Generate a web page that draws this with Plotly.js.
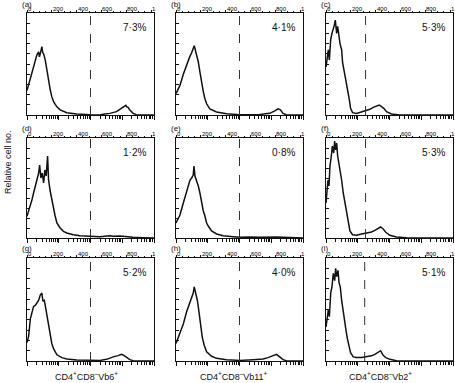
<!DOCTYPE html>
<html>
<head>
<meta charset="utf-8">
<script src="https://cdn.plot.ly/plotly-3.0.1.min.js"></script>
<style>
  html, body { margin: 0; padding: 0; background: #fff; }
  #chart { width: 455px; height: 383px; }
</style>
</head>
<body>
<div id="chart"></div>
<script>
// Histogram data, channel (0-1024, 4 log decades) vs relative cell count
const chA = [0,14,27,40,53,67,80,94,100,107,113,120,127,134,147,160,174,187,200,214,241,267,321,401,508,588,615,668,722,749,775,786,797,805,815,829,856,882,1024];
const ctA = [24,30,36,42,47,54,59,62,57,60,64,67,61,60,54,44,34,25,18,13,8,5,2.3,1,0.3,0,0.8,1.6,3.3,5.6,7.5,8.6,9.5,8,7.5,4.9,1.6,0.3,0];

const chB = [0,32,59,86,107,126,139,147,161,180,193,206,220,233,247,273,327,407,515,676,756,796,810,823,842,863,890,1024];
const ctB = [21,29,40,50,56,61,65,68,61,52,42,32,23,16,11,6,3,1.3,0.3,0.6,1.6,4,5,6,5,1.6,0.3,0];

const chC = [0,19,27,38,48,59,67,75,86,94,105,113,126,134,145,161,174,188,198,214,247,287,327,354,381,407,429,448,466,488,528,595,1024];
const ctC = [47,64,54,74,80,84,88,93,80,87,77,70,64,51,44,34,25,15,6.5,2.3,1.6,3.3,4.3,5.6,7.5,8.9,9.8,8.2,6.6,3.3,1,0,0];

const chD = [0,13,27,40,53,67,80,94,102,112,123,134,144,155,166,174,187,200,214,227,241,267,294,321,374,428,508,588,668,695,749,802,856,936,1024];
const ctD = [21.7,26.7,31.7,38.3,45,51.7,56.7,65,73,60,65,55,68,62,82,58,47,38,28,22,15,10,6.7,5,3.3,2.3,1.7,1.3,2.3,1.7,2,1.3,0.7,0.3,0];

const chE = [0,32,59,80,99,113,126,139,145,153,166,180,193,206,220,233,247,260,287,327,381,461,515,595,676,810,917,1024];
const ctE = [15,23,35,43,52,58,60,63,72,62,57,52,45,35,27,22,15,12,7,4,2.3,1.3,0.7,1,0.7,1,0.3,0];

const chF = [0,16,24,32,43,51,62,70,78,86,94,105,115,126,139,153,166,180,193,214,247,287,327,367,394,421,440,461,482,515,568,649,1024];
const ctF = [35,58,52,72,82,92,85,97,88,95,82,75,68,58,45,35,25,15,7,3.3,2.7,4,5,6,7.7,10,11,9,5.7,2.7,1,0.3,0];

const chG = [0,13,27,40,53,67,80,94,107,120,128,139,147,160,174,187,200,214,241,281,321,401,508,588,642,668,695,735,762,781,802,829,856,1024];
const ctG = [18,24,41,48,53,54,56,59,64,66,58,59,54,45,33,23,17,12,6,3.3,2,1,0.6,0.6,1.6,3,4,5.2,6.5,5.5,3.3,1.3,0.3,0];

const chH = [0,32,59,86,107,126,139,147,158,172,185,198,212,228,247,287,327,407,515,622,702,742,783,810,836,863,890,1024];
const ctH = [17,27,36,48,56,63,66,72,67,59,48,36,23,15,9,4.6,2.6,1.3,0.6,1.3,2,3.3,5.5,6.5,4,1.3,0.3,0];

const chI = [0,19,27,38,48,59,70,78,86,97,105,115,126,139,150,161,172,185,198,220,247,287,327,367,394,421,440,461,482,515,568,1024];
const ctI = [33,50,43,66,72,85,78,90,82,88,76,72,59,46,36,30,22,14,8,4,3.3,3.3,4,5,6.5,8.5,10,5.5,3.3,1.6,0.3,0];

const panelLetters = ["(a)","(b)","(c)","(d)","(e)","(f)","(g)","(h)","(i)"];
const percents = ["7·3%","4·1%","5·3%","1·2%","0·8%","5·3%","5·2%","4·0%","5·1%"];
const gates = [512,512,319,512,512,319,512,512,312];
const topTickVals = [0,200,400,600,800,1000];
const topTickText = ["0","200","400","600","800","1"];
const columnTitles = [
  "CD4<sup>+</sup>CD8<sup>–</sup>Vb6<sup>+</sup>",
  "CD4<sup>+</sup>CD8<sup>–</sup>Vb11<sup>+</sup>",
  "CD4<sup>+</sup>CD8<sup>–</sup>Vb2<sup>+</sup>"
];

const channels = [chA,chB,chC,chD,chE,chF,chG,chH,chI];
const counts = [ctA,ctB,ctC,ctD,ctE,ctF,ctG,ctH,ctI];

// page geometry (pixels)
const W = 455, H = 383;
const colLeft = [27,176,326], colRight = [154,303,453];
const rowTop = [13,138,258], rowBottom = [115,238,361];
const px = v => v / W;
const py = v => 1 - v / H;

// log decade ticks on the bottom axis
const decadeVals = [0,256,512,768,1024];
const minorVals = [];
for (let d = 0; d < 4; d++) {
  for (let m = 2; m <= 9; m++) minorVals.push(256 * (d + Math.log10(m)));
}

const font = "Liberation Sans, Arial, sans-serif";
const traces = [];
const shapes = [];
const annotations = [];
const layout = {
  width: W, height: H,
  margin: { l: 0, r: 0, t: 0, b: 0 },
  paper_bgcolor: "#fff",
  plot_bgcolor: "#fff",
  showlegend: false,
  font: { family: font, color: "#111" }
};

for (let i = 0; i < 9; i++) {
  const col = i % 3, row = Math.floor(i / 3);
  const n = i + 1;
  const xb = n === 1 ? "x" : "x" + n;
  const yb = n === 1 ? "y" : "y" + n;
  const xt = "x" + (n + 9);

  traces.push({
    type: "scatter", mode: "lines",
    x: channels[i], y: counts[i],
    xaxis: xb, yaxis: yb,
    line: { color: "#111", width: 1.5 },
    hoverinfo: "skip"
  });
  // invisible copy so the top channel axis is drawn
  traces.push({
    type: "scatter", mode: "lines",
    x: channels[i], y: counts[i],
    xaxis: xt, yaxis: yb,
    line: { color: "rgba(0,0,0,0)", width: 0 },
    hoverinfo: "skip"
  });

  const xdom = [px(colLeft[col]), px(colRight[col])];
  const ydom = [py(rowBottom[row]), py(rowTop[row])];

  layout["xaxis" + (n === 1 ? "" : n)] = {
    domain: xdom, anchor: yb, range: [0, 1024],
    showgrid: false, zeroline: false,
    showline: true, linecolor: "#111", linewidth: 1,
    tickmode: "array", tickvals: decadeVals,
    ticks: "outside", ticklen: 4, tickwidth: 1, tickcolor: "#111",
    showticklabels: false,
    minor: { tickmode: "array", tickvals: minorVals, ticks: "outside", ticklen: 2.5, tickwidth: 1, tickcolor: "#111" }
  };
  layout["xaxis" + (n + 9)] = {
    overlaying: xb, anchor: yb, side: "top", range: [0, 1024],
    showgrid: false, zeroline: false,
    showline: true, linecolor: "#111", linewidth: 1,
    tickmode: "array", tickvals: topTickVals,
    ticks: "outside", ticklen: 2, tickwidth: 1, tickcolor: "#111",
    showticklabels: false,
    minor: { dtick: 50, ticks: "outside", ticklen: 1.5, tickwidth: 1, tickcolor: "#111" }
  };
  layout["yaxis" + (n === 1 ? "" : n)] = {
    domain: ydom, anchor: xb, range: [0, 100],
    showgrid: false, zeroline: false,
    showline: true, mirror: true, linecolor: "#111", linewidth: 1,
    tickmode: "linear", tick0: 0, dtick: 10,
    ticks: "inside", ticklen: 3, tickwidth: 1, tickcolor: "#111",
    showticklabels: false
  };

  // top channel tick labels, sitting just right of each tick
  topTickVals.forEach((v, k) => {
    annotations.push({
      xref: xt, yref: yb + " domain",
      x: v, y: 1, xanchor: "left", yanchor: "bottom",
      xshift: 0, yshift: 0, borderpad: 0,
      text: topTickText[k], showarrow: false,
      font: { size: 6, family: font, color: "#000" }
    });
  });

  shapes.push({
    type: "line", xref: xb, yref: yb + " domain",
    x0: gates[i], x1: gates[i], y0: 0, y1: 1,
    line: { color: "#333", width: 1, dash: "dash" }
  });

  annotations.push({
    xref: "paper", yref: "paper",
    x: px(colLeft[col] - 6), y: py(Math.max(4.5, rowTop[row] - 10)),
    xanchor: "left", yanchor: "middle", borderpad: 0,
    text: panelLetters[i], showarrow: false,
    font: { size: 8, family: font, color: "#111" }
  });
  annotations.push({
    xref: xb + " domain", yref: yb + " domain",
    x: 0.955, y: 0.86, xanchor: "right", yanchor: "middle",
    text: percents[i], showarrow: false,
    font: { size: 10, family: font, color: "#111" }
  });
}

// column titles
const titleCenters = [86, 234, 380];
for (let c = 0; c < 3; c++) {
  annotations.push({
    xref: "paper", yref: "paper",
    x: px(titleCenters[c]), y: py(376),
    xanchor: "center", yanchor: "middle",
    text: columnTitles[c], showarrow: false,
    font: { size: 9, family: font, color: "#111" }
  });
}

// shared y title
annotations.push({
  xref: "paper", yref: "paper",
  x: px(8), y: py(162), xanchor: "center", yanchor: "middle",
  text: "Relative cell no.", textangle: -90, showarrow: false,
  font: { size: 9, family: font, color: "#111" }
});

layout.shapes = shapes;
layout.annotations = annotations;

Plotly.newPlot("chart", traces, layout, { displayModeBar: false, staticPlot: true });
</script>
</body>
</html>
